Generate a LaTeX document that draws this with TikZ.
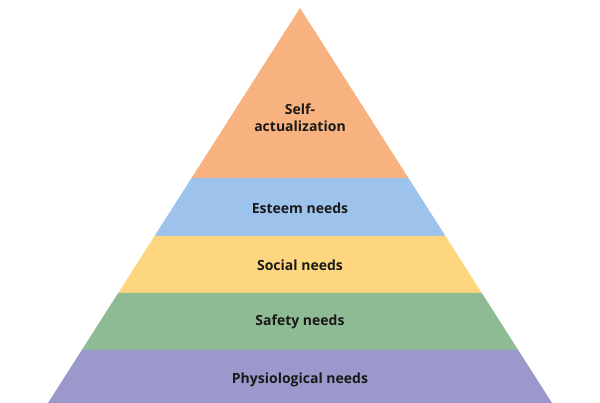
\documentclass[tikz,border=0pt]{standalone}
\usepackage{fontspec}
\setmainfont{Open Sans}
\usetikzlibrary{calc}
\definecolor{selfcolor}{RGB}{248,178,128}
\definecolor{esteemcolor}{RGB}{157,195,236}
\definecolor{socialcolor}{RGB}{254,214,128}
\definecolor{safetycolor}{RGB}{142,186,148}
\definecolor{physcolor}{RGB}{155,153,204}
\tikzset{
  %% level : text of one level of the pyramid
  level/.style={
    font=\bfseries\fontsize{14}{17}\selectfont,
    text=black!90,
    align=center
  }
}

\begin{document}
\begin{tikzpicture}
  [x=1pt,
  y=-1pt]

  \useasboundingbox (0, 0) rectangle (600, 403);

  %% Corners of the pyramid
  \coordinate (apex) at (300, 8);
  \coordinate (bl) at (48, 403);
  \coordinate (br) at (552, 403);

  %% Level borders on the sides
  \foreach \t/\n in {0.4304/a, 0.5772/b, 0.7215/c, 0.8658/d}{
    \coordinate (l\n) at ($(apex)!\t!(bl)$);
    \coordinate (r\n) at ($(apex)!\t!(br)$);
  }

  %% Levels
  \fill [selfcolor] (apex) -- (ra) -- (la) -- cycle;
  \fill [esteemcolor] (la) -- (ra) -- (rb) -- (lb) -- cycle;
  \fill [socialcolor] (lb) -- (rb) -- (rc) -- (lc) -- cycle;
  \fill [safetycolor] (lc) -- (rc) -- (rd) -- (ld) -- cycle;
  \fill [physcolor] (ld) -- (rd) -- (br) -- (bl) -- cycle;

  %% Labels
  \node (self) [level] at (300, 118) {Self-\\actualization};
  \node (esteem) [level] at (300, 208) {Esteem needs};
  \node (social) [level] at (300, 265) {Social needs};
  \node (safety) [level] at (300, 322) {Safety needs};
  \node (phys) [level] at (300, 380) {Physiological needs};

\end{tikzpicture}
\end{document}
